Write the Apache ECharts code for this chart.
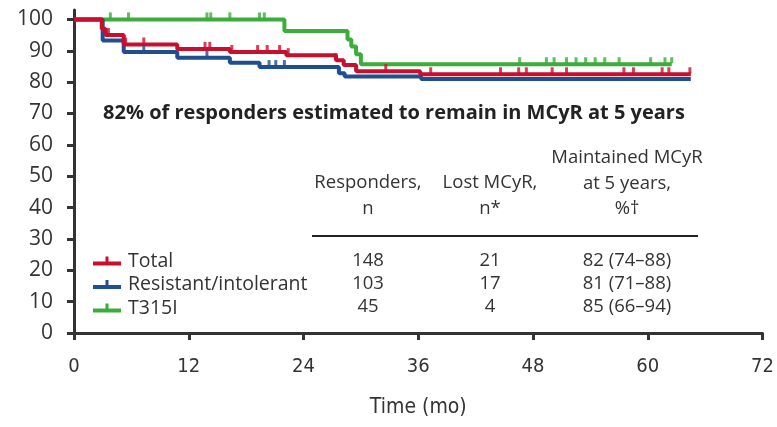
<!DOCTYPE html>
<html>
<head>
<meta charset="utf-8">
<script src="https://cdn.jsdelivr.net/npm/echarts@6/dist/echarts.min.js"></script>
<style>
html,body{margin:0;padding:0;background:#fff;}
#chart{width:777px;height:427px;}
</style>
</head>
<body>
<div id="chart"></div>
<script>
// ---- Data ----
var seriesNames = ['Total', 'Resistant/intolerant', 'T315I'];

var totalTimes   = [0, 2.9, 3.3, 5.2, 10.8, 16.3, 22.2, 27.4, 28.2, 29.5, 36.2, 64.5];
var totalValues  = [100, 97, 95, 92, 90.6, 89.6, 88.6, 87, 85.5, 83.5, 82.5, 82.5];
var totalCensor  = [3.6, 5.4, 7.3, 13.7, 14.2, 16.5, 19.2, 20.2, 21.5, 22.4, 27.4, 32.6, 37.3, 44.6, 46.5, 47.3, 50, 51.5, 57.5, 58.5, 61.5, 62.2, 64.4];

var riTimes   = [0, 3.0, 5.2, 10.8, 16.3, 19.4, 27.7, 28.3, 36.3, 64.5];
var riValues  = [100, 93.3, 89.6, 87.8, 86.2, 84.8, 82.8, 81.8, 81.0, 81.0];
var riCensor  = [7.3, 13.9, 20.4, 21.1, 22.0];

var t315Times  = [0, 22.0, 28.6, 29.0, 29.5, 30.0, 62.5];
var t315Values = [100, 96.3, 93.6, 91.4, 88.9, 85.7, 85.7];
var t315Censor = [3.8, 5.7, 13.9, 14.3, 16.3, 19.4, 19.9, 46.6, 49.4, 50.2, 51.5, 52.5, 53.5, 54.5, 55.5, 57, 60.3, 61.8, 62.5];

var xTicks = [0, 12, 24, 36, 48, 60, 72];
var yTicks = [0, 10, 20, 30, 40, 50, 60, 70, 80, 90, 100];

var annotation = '82% of responders estimated to remain in MCyR at 5 years';
var tableHeaders = ['Responders,\nn', 'Lost MCyR,\nn*', 'Maintained MCyR\nat 5 years,\n%\u2020'];
var colResponders = ['148', '103', '45'];
var colLost = ['21', '17', '4'];
var colMaintained = ['82 (74\u201388)', '81 (71\u201388)', '85 (66\u201394)'];

// ---- Styles ----
var colors = ['#c8102e', '#1f4f8f', '#3aad3a'];
var textColor = '#333';
var condensed = '"DejaVu Sans Condensed", "Liberation Sans Narrow", "Roboto", sans-serif';
var bodyFont = '"Open Sans", sans-serif';

function pairs(ts, vs) { return ts.map(function (t, i) { return [t, vs[i]]; }); }
function stepAt(ts, vs, t) {
  var v = vs[0];
  for (var i = 0; i < ts.length; i++) { if (ts[i] <= t) v = vs[i]; }
  return v;
}
function censorPts(c, ts, vs) { return c.map(function (t) { return [t, stepAt(ts, vs, t)]; }); }

var curves = [
  { name: seriesNames[2], ts: t315Times, vs: t315Values, c: t315Censor, color: colors[2] },
  { name: seriesNames[1], ts: riTimes, vs: riValues, c: riCensor, color: colors[1] },
  { name: seriesNames[0], ts: totalTimes, vs: totalValues, c: totalCensor, color: colors[0] }
];

var series = [];
curves.forEach(function (cv) {
  series.push({
    name: cv.name, type: 'line', step: 'end', symbol: 'none',
    data: pairs(cv.ts, cv.vs),
    lineStyle: { color: cv.color, width: 4 }, itemStyle: { color: cv.color },
    animation: false, z: 2
  });
  series.push({
    name: cv.name, type: 'scatter', symbol: 'rect', symbolSize: [3, 6], symbolOffset: [0, -4],
    data: censorPts(cv.c, cv.ts, cv.vs),
    itemStyle: { color: cv.color }, animation: false, z: 3
  });
});

var legendIcon = 'path://M0,7 L28,7 L28,11 L0,11 Z M12.5,2 L15.5,2 L15.5,7 L12.5,7 Z';

var colX = [368, 490, 627];
var rowY = [261, 284, 307];
var tfont = '18.5px ' + bodyFont;
var graphics = [];
graphics.push({ type: 'text', style: { x: 394, y: 113, text: annotation, font: 'bold 20px ' + bodyFont, fill: '#222', align: 'center', verticalAlign: 'middle' } });
graphics.push({ type: 'text', style: { x: colX[0], y: 196, text: tableHeaders[0], font: tfont, fill: textColor, align: 'center', verticalAlign: 'middle', lineHeight: 26 } });
graphics.push({ type: 'text', style: { x: colX[1], y: 196, text: tableHeaders[1], font: tfont, fill: textColor, align: 'center', verticalAlign: 'middle', lineHeight: 26 } });
graphics.push({ type: 'text', style: { x: colX[2], y: 183.5, text: tableHeaders[2], font: tfont, fill: textColor, align: 'center', verticalAlign: 'middle', lineHeight: 25.5 } });
graphics.push({ type: 'line', shape: { x1: 312, y1: 236, x2: 698, y2: 236 }, style: { stroke: '#222', lineWidth: 2 } });
[colResponders, colLost, colMaintained].forEach(function (col, ci) {
  col.forEach(function (v, ri) {
    graphics.push({ type: 'text', style: { x: colX[ci], y: rowY[ri], text: v, font: tfont, fill: textColor, align: 'center', verticalAlign: 'middle' } });
  });
});

var chart = echarts.init(document.getElementById('chart'), null, { renderer: 'canvas' });
chart.setOption({
  animation: false,
  backgroundColor: '#fff',
  grid: { left: 74, right: 13, top: 10, bottom: 94, containLabel: false },
  legend: {
    data: seriesNames.map(function (n, i) { return { name: n, icon: legendIcon, itemStyle: { color: colors[i] } }; }),
    orient: 'vertical', left: 88, top: 246, itemGap: 3.5, itemWidth: 28, itemHeight: 12,
    textStyle: { fontFamily: bodyFont, fontSize: 19.5, color: textColor, padding: [0, 0, 0, 2] },
    selectedMode: false
  },
  xAxis: {
    type: 'value', min: 0, max: 72, interval: 12,
    name: 'Time (mo)', nameLocation: 'middle', nameGap: 64,
    nameTextStyle: { fontFamily: condensed, fontSize: 21, color: textColor },
    axisLine: { show: true, lineStyle: { color: '#333', width: 3 } },
    axisTick: { show: true, length: 7, lineStyle: { color: '#333', width: 3 } },
    axisLabel: { fontFamily: condensed, fontSize: 20, color: textColor, margin: 24 },
    splitLine: { show: false }
  },
  yAxis: {
    type: 'value', min: 0, max: 103,
    axisLine: { show: true, lineStyle: { color: '#333', width: 3 } },
    axisTick: { show: true, length: 7, lineStyle: { color: '#333', width: 3 }, customValues: yTicks },
    axisLabel: { fontFamily: bodyFont, fontSize: 21, color: textColor, margin: 21, customValues: yTicks },
    splitLine: { show: false }
  },
  graphic: graphics,
  series: series
});
</script>
</body>
</html>
